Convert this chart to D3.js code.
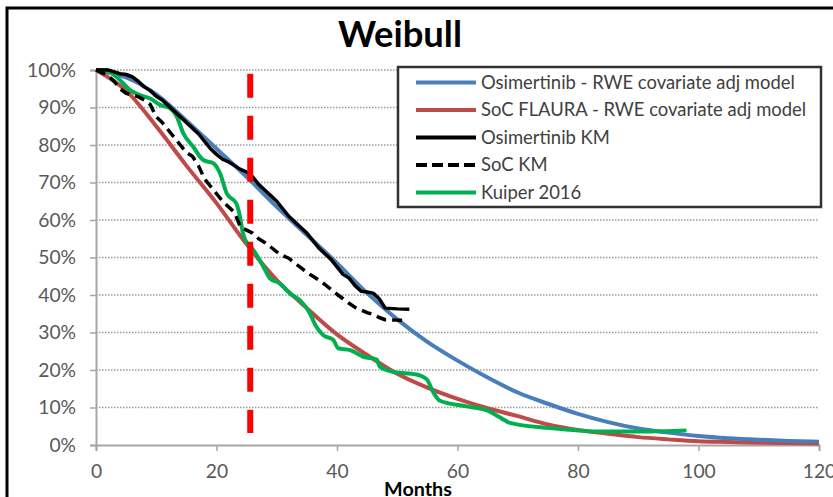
<!DOCTYPE html>
<html>
<head>
<meta charset="utf-8">
<script src="https://cdn.jsdelivr.net/npm/d3@7/dist/d3.min.js"></script>
<style>
  html, body { margin: 0; padding: 0; background: #fff; }
  svg { display: block; }
</style>
</head>
<body>
<svg id="chart" width="833" height="497"></svg>
<script>
// ---------- data ----------
const title = "Weibull";
const xLabel = "Months";
const xTicks = [0, 20, 40, 60, 80, 100, 120];
const yTicks = [0, 10, 20, 30, 40, 50, 60, 70, 80, 90, 100];

const seriesNames = [
  "Osimertinib - RWE covariate adj model",
  "SoC FLAURA - RWE covariate adj model",
  "Osimertinib KM",
  "SoC KM",
  "Kuiper 2016"
];

// Osimertinib Weibull model [month, % surviving]
const osiModel = [[0,100],[5,98],[10,93.5],[15,86.5],[20,79],[25,71.5],[30,63.5],[35,56],[40,48.5],[45,40.5],[50,33.5],[55,27.5],[60,22.5],[65,18],[70,14],[75,11],[80,8.3],[85,6.1],[90,4.4],[95,3.3],[100,2.4],[105,1.8],[110,1.4],[115,1.1],[120,0.9]];

// SoC FLAURA Weibull model
const socModel = [[0,100],[5,94.5],[10,85],[15,74.5],[20,64.5],[25,53.5],[30,44],[35,36.5],[40,29.5],[45,24],[50,19],[55,15.3],[60,12.3],[65,9.8],[70,7.7],[75,5.5],[80,4],[85,3],[90,2.1],[95,1.5],[100,1],[105,0.8],[110,0.6],[115,0.5],[120,0.4]];

// Osimertinib Kaplan-Meier
const osiKM = [[0,100],[2,100],[3,99.5],[4,99],[5,98.8],[6,98.2],[7,97],[8,95.5],[9,94.5],[10,93],[11,92],[12,90.5],[13,89],[14,87.5],[15,86],[16,84.5],[17,83],[18,81],[19,79],[20,77.5],[21,76.2],[22,75.5],[23,74.5],[24,73.5],[25,72.8],[26,71.5],[27,69.5],[28,68],[29,66.5],[30,65],[31,63],[32,61],[33,59.5],[34,58],[35,56.5],[36,54.5],[37,52.5],[38,51],[39,49.5],[40,47.5],[41,45.5],[42,44.5],[43,42.5],[44,41],[45,40.8],[46,40.5],[47,39],[48,36.5],[50,36.3],[52,36.2]];

// SoC Kaplan-Meier
const socKM = [[0,100],[2,98.5],[3,97],[4,95],[5,93.8],[6,93.3],[7,92.9],[8,92],[9,90.8],[10,87.5],[11,86],[12,84],[13,82],[14,80],[15,78],[16,77],[17,74.5],[18,71],[19,69],[20,67],[21,65],[22,63.5],[23,62],[24,58],[25,57.3],[26,56.5],[27,55],[28,54],[29,52.8],[30,51.5],[31,50.5],[32,49.8],[33,48.5],[34,47.3],[35,46],[36,45],[37,44],[38,42.8],[39,41.5],[40,40.2],[41,39],[42,37.8],[43,36.7],[44,36],[45,35.3],[46,34.8],[47,34],[48,33.4],[50,33.3],[51.5,33.3]];

// Kuiper 2016
const kuiper = [[0,100],[1.5,100],[2.3,99.5],[4,97.3],[5.6,94.7],[7.3,93.3],[9,92.4],[10.6,90.7],[12.3,89.8],[13.4,87.6],[14.5,83.1],[16.1,79.6],[17.8,76],[19.5,75.1],[20.6,72.4],[21.7,67.1],[23.3,64.4],[23.9,60.9],[24.4,56.4],[25,54],[26.1,52],[27.8,47.5],[28.9,44.4],[30.5,43.1],[32.2,40.4],[34.1,38.2],[35.5,35.1],[36.4,32],[37.7,29.3],[39.4,28],[40.2,25.8],[42.2,25.3],[44.4,23.5],[46.6,22.8],[47.1,20.9],[49.3,19.5],[53.2,18.8],[54.9,17.5],[56,14],[57.1,11.8],[61.5,10.3],[64.8,9.3],[67.3,7.1],[68.7,5.9],[75.4,4.5],[83.7,3.6],[91.9,3.6],[98,3.9]];

// vertical red dashed cut-off marker [month, from %, to %]
const cutoff = [25.6, 99, 3.2];

// ---------- drawing ----------
const svg = d3.select("#chart");
const W = 833, H = 497;
const plot = { left: 96, right: 819, top: 70, bottom: 445 };
const FONT = "Lato, 'Open Sans', 'Liberation Sans', sans-serif";

const x = d3.scaleLinear().domain([0, 120]).range([plot.left, plot.right]);
const y = d3.scaleLinear().domain([0, 100]).range([plot.bottom, plot.top]);

svg.append("rect").attr("width", W).attr("height", H).attr("fill", "#fff");

// fit font size to a target width
function fitSize(text, weight, target, base) {
  const t = svg.append("text").attr("font-family", FONT).attr("font-weight", weight)
    .style("font-size", base + "px").text(text);
  const w = t.node().getBBox().width;
  t.remove();
  return base * target / w;
}

// outer frame (left + top edges visible)
svg.append("path").attr("d", `M7,497 L7,8 L833,8`).attr("fill", "none")
  .attr("stroke", "#000").attr("stroke-width", 3);

// gridlines
svg.append("g").selectAll("line").data(yTicks.filter(d => d > 0)).join("line")
  .attr("x1", plot.left).attr("x2", plot.right)
  .attr("y1", d => y(d)).attr("y2", d => y(d))
  .attr("stroke", "#9a9a9a").attr("stroke-width", 1.5)
  .attr("stroke-dasharray", "1.5,1.5");

const tickSize = fitSize("100%", 400, 49, 18);

// y axis
const yAxis = svg.append("g").attr("transform", `translate(${plot.left},0)`)
  .call(d3.axisLeft(y).tickValues(yTicks).tickFormat(d => d + "%").tickSize(6).tickPadding(14));
yAxis.select(".domain").attr("stroke", "#a6a6a6").attr("stroke-width", 2);
yAxis.selectAll(".tick line").attr("stroke", "#a6a6a6").attr("stroke-width", 1.5);
yAxis.selectAll(".tick text").attr("font-family", FONT).style("font-size", tickSize + "px").attr("fill", "#595959");

// x axis
const xAxis = svg.append("g").attr("transform", `translate(0,${plot.bottom})`)
  .call(d3.axisBottom(x).tickValues(xTicks).tickSize(6).tickPadding(13));
xAxis.select(".domain").attr("stroke", "#a6a6a6").attr("stroke-width", 2);
xAxis.selectAll(".tick line").attr("stroke", "#a6a6a6").attr("stroke-width", 1.5);
xAxis.selectAll(".tick text").attr("font-family", FONT).style("font-size", tickSize + "px").attr("fill", "#595959");

// x axis title
svg.append("text").attr("x", 418).attr("y", 496).attr("text-anchor", "middle")
  .attr("font-family", FONT).attr("font-weight", 700)
  .style("font-size", fitSize(xLabel, 700, 68, 18) + "px").attr("fill", "#000").text(xLabel);

// title
svg.append("text").attr("x", 400).attr("y", 47).attr("text-anchor", "middle")
  .attr("font-family", FONT).attr("font-weight", 700)
  .style("font-size", fitSize(title, 700, 124, 32) + "px").attr("fill", "#000").text(title);

// lines
const line = d3.line().x(d => x(d[0])).y(d => y(d[1]));
const mono = d3.line().x(d => x(d[0])).y(d => y(d[1])).curve(d3.curveMonotoneX);

const styles = [
  { data: osiModel, color: "#4a7ebb", width: 4, dash: null, gen: mono },
  { data: socModel, color: "#be4b48", width: 4, dash: null, gen: mono },
  { data: osiKM, color: "#000000", width: 3.5, dash: null, gen: line },
  { data: socKM, color: "#000000", width: 3.5, dash: "10,6", gen: line },
  { data: kuiper, color: "#00b050", width: 4, dash: null, gen: mono }
];
// draw order: models first, then Kuiper, then KM
[1, 0, 4, 3, 2].forEach(i => {
  const s = styles[i];
  svg.append("path").datum(s.data).attr("d", s.gen)
    .attr("fill", "none").attr("stroke", s.color).attr("stroke-width", s.width)
    .attr("stroke-linejoin", "round")
    .attr("stroke-dasharray", s.dash);
});

// red cut-off
svg.append("line")
  .attr("x1", x(cutoff[0])).attr("x2", x(cutoff[0]))
  .attr("y1", y(cutoff[1])).attr("y2", y(cutoff[2]))
  .attr("stroke", "#ff0000").attr("stroke-width", 6).attr("stroke-dasharray", "24,18");

// legend
const lg = svg.append("g");
lg.append("rect").attr("x", 398).attr("y", 67).attr("width", 423).attr("height", 140)
  .attr("fill", "#fff").attr("stroke", "#333").attr("stroke-width", 2.5);
const legendSize = fitSize(seriesNames[0], 400, 314, 18);
seriesNames.forEach((name, i) => {
  const yy = 82.5 + i * 27.5;
  const s = styles[i];
  lg.append("line").attr("x1", 416).attr("x2", 476).attr("y1", yy).attr("y2", yy)
    .attr("stroke", s.color).attr("stroke-width", 4)
    .attr("stroke-dasharray", s.dash ? "11,5" : null);
  lg.append("text").attr("x", 481).attr("y", yy).attr("dy", "0.35em")
    .attr("font-family", FONT).style("font-size", legendSize + "px").attr("fill", "#404040").text(name);
});
</script>
</body>
</html>
